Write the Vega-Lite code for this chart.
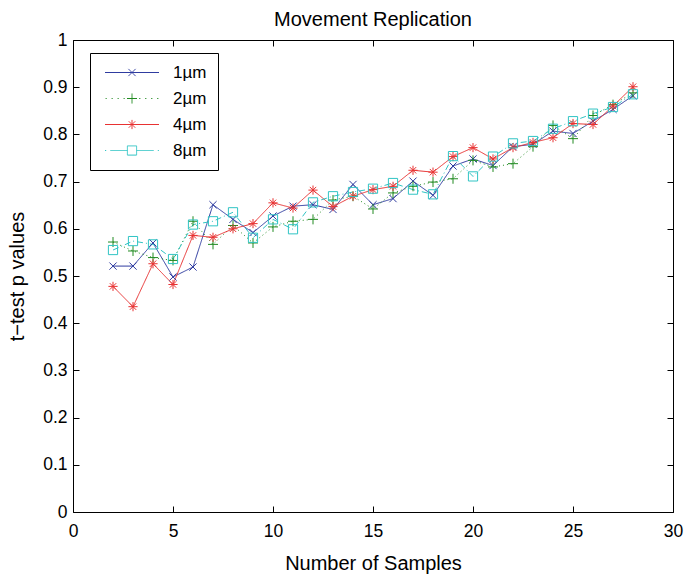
{
  "$schema": "https://vega.github.io/schema/vega-lite/v6.json",
  "autosize": {"type": "none"},
  "padding": {"left": 73, "top": 40, "right": 13, "bottom": 63},
  "width": 600,
  "height": 472,
  "background": "white",
  "title": {"text": "Movement Replication", "anchor": "middle", "frame": "group", "offset": 1, "font": "Liberation Sans", "fontSize": 20, "fontWeight": "normal", "color": "black"},
  "config": {
    "view": {"stroke": "black", "strokeWidth": 1},
    "axis": {"labelFont": "Liberation Sans", "titleFont": "Liberation Sans", "labelFontSize": 17.5, "titleFontSize": 20, "titleFontWeight": "normal", "labelColor": "black", "titleColor": "black", "tickColor": "black", "domain": false, "grid": false, "ticks": true, "tickSize": 6, "tickWidth": 1, "offset": -6, "labelFlush": false},
    "legend": {"labelFont": "Liberation Sans", "labelFontSize": 17, "labelColor": "black"}
  },
  "data": {"values": [
    {"n":2,"s":"1µm","p":0.521},{"n":3,"s":"1µm","p":0.521},{"n":4,"s":"1µm","p":0.570},{"n":5,"s":"1µm","p":0.498},{"n":6,"s":"1µm","p":0.519},{"n":7,"s":"1µm","p":0.651},{"n":8,"s":"1µm","p":0.620},{"n":9,"s":"1µm","p":0.592},{"n":10,"s":"1µm","p":0.627},{"n":11,"s":"1µm","p":0.648},{"n":12,"s":"1µm","p":0.651},{"n":13,"s":"1µm","p":0.641},{"n":14,"s":"1µm","p":0.694},{"n":15,"s":"1µm","p":0.651},{"n":16,"s":"1µm","p":0.664},{"n":17,"s":"1µm","p":0.701},{"n":18,"s":"1µm","p":0.671},{"n":19,"s":"1µm","p":0.733},{"n":20,"s":"1µm","p":0.748},{"n":21,"s":"1µm","p":0.734},{"n":22,"s":"1µm","p":0.774},{"n":23,"s":"1µm","p":0.779},{"n":24,"s":"1µm","p":0.807},{"n":25,"s":"1µm","p":0.802},{"n":26,"s":"1µm","p":0.828},{"n":27,"s":"1µm","p":0.853},{"n":28,"s":"1µm","p":0.882},
    {"n":2,"s":"2µm","p":0.572},{"n":3,"s":"2µm","p":0.553},{"n":4,"s":"2µm","p":0.539},{"n":5,"s":"2µm","p":0.533},{"n":6,"s":"2µm","p":0.616},{"n":7,"s":"2µm","p":0.567},{"n":8,"s":"2µm","p":0.607},{"n":9,"s":"2µm","p":0.570},{"n":10,"s":"2µm","p":0.604},{"n":11,"s":"2µm","p":0.616},{"n":12,"s":"2µm","p":0.620},{"n":13,"s":"2µm","p":0.661},{"n":14,"s":"2µm","p":0.669},{"n":15,"s":"2µm","p":0.642},{"n":16,"s":"2µm","p":0.676},{"n":17,"s":"2µm","p":0.690},{"n":18,"s":"2µm","p":0.699},{"n":19,"s":"2µm","p":0.706},{"n":20,"s":"2µm","p":0.745},{"n":21,"s":"2µm","p":0.731},{"n":22,"s":"2µm","p":0.738},{"n":23,"s":"2µm","p":0.774},{"n":24,"s":"2µm","p":0.819},{"n":25,"s":"2µm","p":0.791},{"n":26,"s":"2µm","p":0.840},{"n":27,"s":"2µm","p":0.863},{"n":28,"s":"2µm","p":0.888},
    {"n":2,"s":"4µm","p":0.478},{"n":3,"s":"4µm","p":0.435},{"n":4,"s":"4µm","p":0.526},{"n":5,"s":"4µm","p":0.482},{"n":6,"s":"4µm","p":0.586},{"n":7,"s":"4µm","p":0.582},{"n":8,"s":"4µm","p":0.600},{"n":9,"s":"4µm","p":0.611},{"n":10,"s":"4µm","p":0.655},{"n":11,"s":"4µm","p":0.644},{"n":12,"s":"4µm","p":0.682},{"n":13,"s":"4µm","p":0.647},{"n":14,"s":"4µm","p":0.669},{"n":15,"s":"4µm","p":0.683},{"n":16,"s":"4µm","p":0.690},{"n":17,"s":"4µm","p":0.724},{"n":18,"s":"4µm","p":0.720},{"n":19,"s":"4µm","p":0.753},{"n":20,"s":"4µm","p":0.772},{"n":21,"s":"4µm","p":0.748},{"n":22,"s":"4µm","p":0.772},{"n":23,"s":"4µm","p":0.783},{"n":24,"s":"4µm","p":0.793},{"n":25,"s":"4µm","p":0.823},{"n":26,"s":"4µm","p":0.821},{"n":27,"s":"4µm","p":0.860},{"n":28,"s":"4µm","p":0.901},
    {"n":2,"s":"8µm","p":0.555},{"n":3,"s":"8µm","p":0.574},{"n":4,"s":"8µm","p":0.567},{"n":5,"s":"8µm","p":0.536},{"n":6,"s":"8µm","p":0.609},{"n":7,"s":"8µm","p":0.616},{"n":8,"s":"8µm","p":0.635},{"n":9,"s":"8µm","p":0.581},{"n":10,"s":"8µm","p":0.620},{"n":11,"s":"8µm","p":0.599},{"n":12,"s":"8µm","p":0.656},{"n":13,"s":"8µm","p":0.669},{"n":14,"s":"8µm","p":0.678},{"n":15,"s":"8µm","p":0.685},{"n":16,"s":"8µm","p":0.697},{"n":17,"s":"8µm","p":0.683},{"n":18,"s":"8µm","p":0.673},{"n":19,"s":"8µm","p":0.754},{"n":20,"s":"8µm","p":0.711},{"n":21,"s":"8µm","p":0.753},{"n":22,"s":"8µm","p":0.781},{"n":23,"s":"8µm","p":0.786},{"n":24,"s":"8µm","p":0.812},{"n":25,"s":"8µm","p":0.828},{"n":26,"s":"8µm","p":0.844},{"n":27,"s":"8µm","p":0.858},{"n":28,"s":"8µm","p":0.885}
  ]},
  "layer": [
    {
      "mark": {"type": "line", "strokeWidth": 1},
      "encoding": {
        "x": {"field": "n", "type": "quantitative", "scale": {"domain": [0, 30], "nice": false, "zero": false}, "axis": {"orient": "bottom", "values": [0,5,10,15,20,25,30], "labelPadding": 10, "title": "Number of Samples", "titlePadding": 14}},
        "y": {"field": "p", "type": "quantitative", "scale": {"domain": [0, 1], "nice": false}, "axis": {"orient": "left", "values": [0,0.1,0.2,0.3,0.4,0.5,0.6,0.7,0.8,0.9,1], "format": ".1~f", "labelPadding": 6, "title": "t−test p values", "titlePadding": 15}},
        "color": {"field": "s", "type": "nominal", "scale": {"domain": ["1µm","2µm","4µm","8µm"], "range": ["#2f3ca0","#208a20","#e83232","#30c4c4"]},
          "legend": {"title": null, "orient": "none", "legendX": 17, "legendY": 13, "fillColor": "white", "strokeColor": "black", "padding": 11, "symbolSize": 64, "symbolOffset": 22.5, "labelOffset": 32.5, "rowPadding": 8, "symbolStrokeWidth": 1,
            "encode": {"symbols": {"update": {
              "shape": {"signal": "datum.value === '1µm' ? 'M-6.75,0H6.75M-0.9,-0.9L0.9,0.9M-0.9,0.9L0.9,-0.9' : datum.value === '2µm' ? 'M-6.6,0h0.3M-5.1,0h0.3M-3.6,0h0.3M-2.1,0h0.3M1.8,0h0.3M3.3,0h0.3M4.8,0h0.3M6.3,0h0.3M-1.25,0H1.25M0,-1.25V1.25' : datum.value === '4µm' ? 'M-6.75,0H6.75M-1.15,0H1.15M0,-1.15V1.15M-0.8,-0.8L0.8,0.8M-0.8,0.8L0.8,-0.8' : 'M-6.75,0h0.3M-5.4,0H-1.15M1.15,0H5.4M6.45,0h0.3M-1.15,-1.15H1.15V1.15H-1.15Z'"},
              "fill": {"value": "transparent"},
              "stroke": {"scale": "color", "field": "value"},
              "strokeWidth": {"value": 1},
              "strokeDash": {"value": [1, 0]}
            }}}}},
        "strokeDash": {"condition": [{"test": "datum.s === '2µm'", "value": [1, 3]}, {"test": "datum.s === '8µm'", "value": [6, 3, 1, 3]}], "value": [1, 0]}
      }
    },
    {
      "mark": {"type": "point", "filled": false, "size": 64, "strokeWidth": 1, "opacity": 1},
      "encoding": {
        "x": {"field": "n", "type": "quantitative", "axis": {"orient": "top", "values": [0,5,10,15,20,25,30], "labels": false, "title": null}},
        "y": {"field": "p", "type": "quantitative", "axis": {"orient": "right", "values": [0,0.1,0.2,0.3,0.4,0.5,0.6,0.7,0.8,0.9,1], "labels": false, "title": null}},
        "color": {"field": "s", "type": "nominal"},
        "shape": {"condition": [{"test": "datum.s === '1µm'", "value": "M-0.9,-0.9L0.9,0.9M-0.9,0.9L0.9,-0.9"}, {"test": "datum.s === '2µm'", "value": "M-1.25,0H1.25M0,-1.25V1.25"}, {"test": "datum.s === '4µm'", "value": "M-1.15,0H1.15M0,-1.15V1.15M-0.8,-0.8L0.8,0.8M-0.8,0.8L0.8,-0.8"}], "value": "M-1.15,-1.15H1.15V1.15H-1.15Z"}
      }
    }
  ],
  "resolve": {"axis": {"x": "independent", "y": "independent"}}
}
